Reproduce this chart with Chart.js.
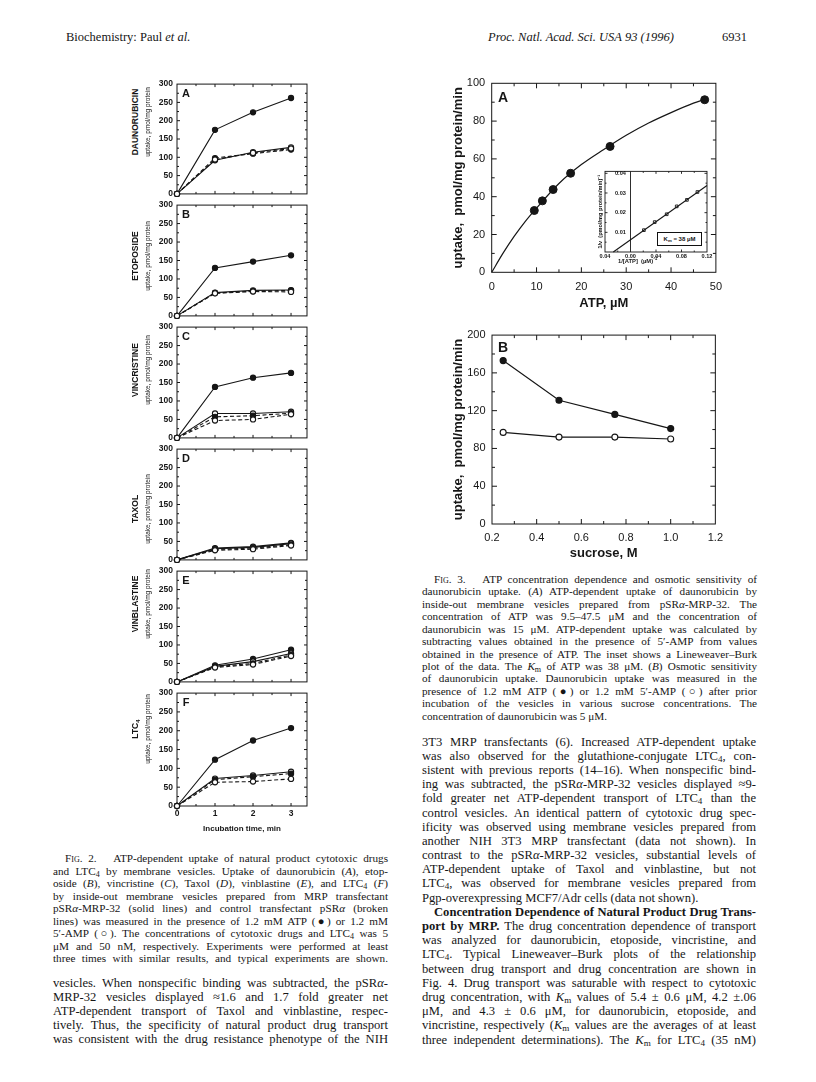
<!DOCTYPE html>
<html><head><meta charset="utf-8">
<script src="https://cdn.jsdelivr.net/npm/chart.js@4.4.1/dist/chart.umd.min.js"></script>
<style>
html,body{margin:0;padding:0;background:#fff;}
body{width:816px;height:1082px;position:relative;overflow:hidden;color:#161616;}
.abs{position:absolute;white-space:nowrap;z-index:5;}
canvas{position:absolute;z-index:1;}
.serif{font-family:'Liberation Serif','Times New Roman',serif;}
.sans{font-family:'Liberation Sans',Arial,sans-serif;}
.rot{position:absolute;z-index:5;transform:translate(-50%,-50%) rotate(-90deg);white-space:nowrap;font-family:'Liberation Sans',Arial,sans-serif;}
.txt{position:absolute;font-family:'Liberation Serif','Times New Roman',serif;}
.txt div{white-space:nowrap;text-align:justify;text-align-last:justify;}
.txt div.l{text-align-last:left;}
.sc{font-variant:small-caps;}
sub{font-size:0.72em;vertical-align:-0.25em;line-height:0;}
.let{position:absolute;z-index:5;font-family:'Liberation Sans',Arial,sans-serif;font-weight:bold;transform:translate(-50%,-50%);}
</style></head>
<body>
<div class="abs serif" style="left:66px;top:30px;font-size:12.5px;">Biochemistry: Paul <i>et al.</i></div>
<div class="abs serif" style="left:488px;top:30px;font-size:12.5px;font-style:italic;">Proc. Natl. Acad. Sci. USA 93 (1996)</div>
<div class="abs serif" style="left:722px;top:30px;font-size:12.5px;">6931</div>

<div id="leftLabels"></div>

<div class="let" style="left:503px;top:97px;font-size:14px;">A</div>
<div class="let" style="left:503px;top:347px;font-size:14px;">B</div>
<div class="abs sans" style="left:657px;top:232px;width:43px;height:12px;border:1px solid #111;background:#fff;font-size:6px;font-weight:bold;line-height:12px;text-align:center;">K<sub>m</sub> = 38 µM</div>
<div class="abs sans" style="left:618px;top:258px;font-size:5.8px;font-weight:bold;">1/[ATP]&nbsp; (µM)<sup style="font-size:0.8em;line-height:0">-1</sup></div>

<div class="txt" style="left:53px;top:852px;width:335px;font-size:11.2px;line-height:12.5px;">
<div style="padding-left:12px"><span class="sc">Fig</span>. 2.&nbsp;&nbsp; ATP-dependent uptake of natural product cytotoxic drugs</div>
<div>and LTC<sub>4</sub> by membrane vesicles. Uptake of daunorubicin (<i>A</i>), etop-</div>
<div>oside (<i>B</i>), vincristine (<i>C</i>), Taxol (<i>D</i>), vinblastine (<i>E</i>), and LTC<sub>4</sub> (<i>F</i>)</div>
<div>by inside-out membrane vesicles prepared from MRP transfectant</div>
<div>pSR<i>α</i>-MRP-32 (solid lines) and control transfectant pSR<i>α</i> (broken</div>
<div>lines) was measured in the presence of 1.2 mM ATP (●) or 1.2 mM</div>
<div>5′-AMP (○). The concentrations of cytotoxic drugs and LTC<sub>4</sub> was 5</div>
<div>μM and 50 nM, respectively. Experiments were performed at least</div>
<div>three times with similar results, and typical experiments are shown.</div>
</div>

<div class="txt" style="left:53px;top:976px;width:335px;font-size:12.6px;line-height:14px;">
<div>vesicles. When nonspecific binding was subtracted, the pSR<i>α</i>-</div>
<div>MRP-32 vesicles displayed ≈1.6 and 1.7 fold greater net</div>
<div>ATP-dependent transport of Taxol and vinblastine, respec-</div>
<div>tively. Thus, the specificity of natural product drug transport</div>
<div>was consistent with the drug resistance phenotype of the NIH</div>
</div>

<div class="txt" style="left:422px;top:573px;width:335px;font-size:11.2px;line-height:12.42px;">
<div style="padding-left:12px"><span class="sc">Fig</span>. 3.&nbsp;&nbsp; ATP concentration dependence and osmotic sensitivity of</div>
<div>daunorubicin uptake. (<i>A</i>) ATP-dependent uptake of daunorubicin by</div>
<div>inside-out membrane vesicles prepared from pSR<i>α</i>-MRP-32. The</div>
<div>concentration of ATP was 9.5–47.5 μM and the concentration of</div>
<div>daunorubicin was 15 μM. ATP-dependent uptake was calculated by</div>
<div>subtracting values obtained in the presence of 5′-AMP from values</div>
<div>obtained in the presence of ATP. The inset shows a Lineweaver–Burk</div>
<div>plot of the data. The <i>K</i><sub>m</sub> of ATP was 38 μM. (<i>B</i>) Osmotic sensitivity</div>
<div>of daunorubicin uptake. Daunorubicin uptake was measured in the</div>
<div>presence of 1.2 mM ATP (●) or 1.2 mM 5′-AMP (○) after prior</div>
<div>incubation of the vesicles in various sucrose concentrations. The</div>
<div class="l">concentration of daunorubicin was 5 μM.</div>
</div>

<div class="txt" style="left:422px;top:734.6px;width:334px;font-size:12.6px;line-height:14.18px;">
<div>3T3 MRP transfectants (6). Increased ATP-dependent uptake</div>
<div>was also observed for the glutathione-conjugate LTC<sub>4</sub>, con-</div>
<div>sistent with previous reports (14–16). When nonspecific bind-</div>
<div>ing was subtracted, the pSR<i>α</i>-MRP-32 vesicles displayed ≈9-</div>
<div>fold greater net ATP-dependent transport of LTC<sub>4</sub> than the</div>
<div>control vesicles. An identical pattern of cytotoxic drug spec-</div>
<div>ificity was observed using membrane vesicles prepared from</div>
<div>another NIH 3T3 MRP transfectant (data not shown). In</div>
<div>contrast to the pSR<i>α</i>-MRP-32 vesicles, substantial levels of</div>
<div>ATP-dependent uptake of Taxol and vinblastine, but not</div>
<div>LTC<sub>4</sub>, was observed for membrane vesicles prepared from</div>
<div class="l">Pgp-overexpressing MCF7/Adr cells (data not shown).</div>
<div style="padding-left:12px"><b>Concentration Dependence of Natural Product Drug Trans-</b></div>
<div><b>port by MRP.</b> The drug concentration dependence of transport</div>
<div>was analyzed for daunorubicin, etoposide, vincristine, and</div>
<div>LTC<sub>4</sub>. Typical Lineweaver–Burk plots of the relationship</div>
<div>between drug transport and drug concentration are shown in</div>
<div>Fig. 4. Drug transport was saturable with respect to cytotoxic</div>
<div>drug concentration, with <i>K</i><sub>m</sub> values of 5.4 ± 0.6 μM, 4.2 ±.06</div>
<div>μM, and 4.3 ± 0.6 μM, for daunorubicin, etoposide, and</div>
<div>vincristine, respectively (<i>K</i><sub>m</sub> values are the averages of at least</div>
<div>three independent determinations). The <i>K</i><sub>m</sub> for LTC<sub>4</sub> (35 nM)</div>
</div>

<script>
// ---------- data (Fig. 2) ----------
const timeMin = [0, 1, 2, 3];
const daunoMrpAtp = [0, 175, 223, 262];
const daunoMrpAmp = [0, 92, 114, 127];
const daunoCtlAtp = [0, 98, 110, 121];
const daunoCtlAmp = [0, 94, 112, 124];
const etoMrpAtp = [0, 130, 147, 164];
const etoMrpAmp = [0, 63, 69, 70];
const etoCtlAtp = [0, 62, 67, 69];
const etoCtlAmp = [0, 61, 66, 65];
const vinMrpAtp = [0, 138, 163, 176];
const vinMrpAmp = [0, 66, 66, 71];
const vinCtlAtp = [0, 57, 60, 67];
const vinCtlAmp = [0, 47, 50, 64];
const taxMrpAtp = [0, 32, 36, 46];
const taxMrpAmp = [0, 30, 34, 44];
const taxCtlAtp = [0, 28, 32, 41];
const taxCtlAmp = [0, 26, 29, 39];
const vblMrpAtp = [0, 45, 62, 87];
const vblMrpAmp = [0, 42, 55, 77];
const vblCtlAtp = [0, 41, 50, 73];
const vblCtlAmp = [0, 39, 47, 70];
const ltcMrpAtp = [0, 123, 174, 207];
const ltcMrpAmp = [0, 73, 81, 91];
const ltcCtlAtp = [0, 70, 78, 86];
const ltcCtlAmp = [0, 63, 65, 72];
const panelLetters = ['A', 'B', 'C', 'D', 'E', 'F'];
const drugNames = ['DAUNORUBICIN', 'ETOPOSIDE', 'VINCRISTINE', 'TAXOL', 'VINBLASTINE', 'LTC<sub>4</sub>'];
const uptakeAxisLabel = 'uptake, pmol/mg protein';
const uptakeTicks = [0, 50, 100, 150, 200, 250, 300];
const timeTicks = [0, 1, 2, 3];
const timeAxisLabel = 'Incubation time, min';

// ---------- data (Fig. 3A) ----------
const atpConc = [9.5, 11.3, 13.7, 17.6, 26.4, 47.5];
const atpUptake = [32.7, 37.8, 43.8, 52.4, 66.6, 91.3];
const fitConc = [0, 2.5, 5, 7.5, 10, 15, 20, 25, 30, 35, 40, 45, 47.5];
const fitUptake = [0, 10, 19, 27, 34, 47, 57, 65, 72.5, 79, 84.5, 89.5, 91.5];
const atpTicks = [0, 10, 20, 30, 40, 50];
const uptakeMinTicks = [0, 20, 40, 60, 80, 100];
// inset (Lineweaver-Burk)
const invAtp = [0.021, 0.038, 0.0568, 0.0725, 0.0885, 0.105];
const invUptake = [0.0111, 0.0152, 0.0192, 0.0232, 0.0265, 0.0305];
const lbLineX = [-0.027, 0.12];
const lbLineY = [0, 0.0338];
const invAtpTicks = [-0.04, 0, 0.04, 0.08, 0.12];
const invAtpTickLabels = ['0.04', '0.00', '0.04', '0.08', '0.12'];
const invUptakeTicks = [0.01, 0.02, 0.03, 0.04];

// ---------- data (Fig. 3B) ----------
const sucrose = [0.25, 0.5, 0.75, 1.0];
const sucroseAtp = [173, 131, 116, 101];
const sucroseAmp = [97, 92, 92, 90];
const sucroseTicks = [0.2, 0.4, 0.6, 0.8, 1.0, 1.2];
const sucroseUptakeTicks = [0, 40, 80, 120, 160, 200];

// ---------- helpers ----------
const INK = '#161616';
const SANS = "'Liberation Sans', Arial, sans-serif";
const fixed = vals => s => { s.ticks = vals.map(v => ({ value: v })); };
const range = (a, b, st) => { const r = []; for (let v = a; v <= b + 1e-9; v += st) r.push(+v.toFixed(4)); return r; };
const pts = (xs, ys) => xs.map((x, i) => ({ x, y: ys[i] }));

const frameTicks = {
  id: 'frameTicks',
  beforeDraw(chart, args, o) {
    if (!o || !o.on || !o.fill) return;
    const { ctx, chartArea: a } = chart;
    ctx.save(); ctx.fillStyle = '#fff';
    ctx.fillRect(a.left, a.top, a.right - a.left, a.bottom - a.top);
    ctx.restore();
  },
  beforeDatasetsDraw(chart, args, o) {
    if (!o || !o.on) return;
    const { ctx, chartArea: a } = chart;
    const x = chart.scales.x, y = chart.scales.y;
    ctx.save();
    ctx.strokeStyle = INK; ctx.lineWidth = o.lw || 1;
    ctx.strokeRect(a.left, a.top, a.right - a.left, a.bottom - a.top);
    ctx.beginPath();
    const tk = (vals, len, horiz) => (vals || []).forEach(v => {
      if (horiz) { const p = x.getPixelForValue(v); ctx.moveTo(p, a.bottom); ctx.lineTo(p, a.bottom - len); ctx.moveTo(p, a.top); ctx.lineTo(p, a.top + len); }
      else { const p = y.getPixelForValue(v); ctx.moveTo(a.left, p); ctx.lineTo(a.left + len, p); ctx.moveTo(a.right, p); ctx.lineTo(a.right - len, p); }
    });
    tk(o.xMajor, o.L, true); tk(o.xMinor, o.l, true); tk(o.yMajor, o.L, false); tk(o.yMinor, o.l, false);
    if (o.zeroX !== undefined) { const p = x.getPixelForValue(o.zeroX); ctx.moveTo(p, a.top); ctx.lineTo(p, a.bottom); }
    ctx.stroke(); ctx.restore();
  }
};
Chart.register(frameTicks);

function makeCanvas(left, top, w, h) {
  const c = document.createElement('canvas');
  c.width = w; c.height = h;
  c.style.left = left + 'px'; c.style.top = top + 'px';
  c.style.width = w + 'px'; c.style.height = h + 'px';
  document.body.appendChild(c);
  return c;
}
const baseOpts = () => ({ responsive: false, animation: false, events: [], devicePixelRatio: 1 });

// ---------- Fig. 2 panels ----------
const panels = [
  [daunoMrpAtp, daunoMrpAmp, daunoCtlAtp, daunoCtlAmp],
  [etoMrpAtp, etoMrpAmp, etoCtlAtp, etoCtlAmp],
  [vinMrpAtp, vinMrpAmp, vinCtlAtp, vinCtlAmp],
  [taxMrpAtp, taxMrpAmp, taxCtlAtp, taxCtlAmp],
  [vblMrpAtp, vblMrpAmp, vblCtlAtp, vblCtlAmp],
  [ltcMrpAtp, ltcMrpAmp, ltcCtlAtp, ltcCtlAmp]
];
const labelCenters = [122, 256, 370, 509, 604, 729];
const tickFont2 = { family: SANS, size: 8.5, weight: 'bold' };

panels.forEach((p, i) => {
  const T = 83 + i * 121.9, B = T + 113.5;
  const last = i === panels.length - 1;
  const xH = last ? 29 : 0;
  const cTop = Math.floor(T) - 8;
  const cH = Math.ceil(B + xH + (last ? 3 : 6)) - cTop;
  const padTop = T - cTop, padBottom = cTop + cH - B - xH;
  const c = makeCanvas(150, cTop, 165, cH);
  const ds = (vals, dashed, filled) => ({
    data: pts(timeMin, vals), borderColor: INK, borderWidth: 1.1,
    borderDash: dashed ? [4, 2.5] : [], pointRadius: 2.6, pointBorderWidth: 1.1,
    pointBackgroundColor: filled ? INK : '#fff', pointBorderColor: INK, clip: false, tension: 0
  });
  new Chart(c, {
    type: 'line',
    data: { datasets: [ds(p[3], true, false), ds(p[2], true, true), ds(p[1], false, false), ds(p[0], false, true)] },
    options: {
      ...baseOpts(),
      layout: { autoPadding: false, padding: { left: 0, right: 8, top: padTop, bottom: padBottom } },
      scales: {
        x: { type: 'linear', min: 0, max: 3.42, grid: { display: false, drawTicks: false }, border: { display: false },
             afterBuildTicks: fixed(timeTicks), afterFit: s => { s.height = xH; },
             ticks: { display: last, padding: 3, font: tickFont2, color: INK, autoSkip: false, maxRotation: 0 },
             title: { display: last, text: timeAxisLabel, color: INK, font: { family: SANS, size: 8, weight: 'bold' }, padding: { top: 0, bottom: 1.2 } } },
        y: { type: 'linear', min: 0, max: 300, grid: { display: false, drawTicks: false }, border: { display: false },
             afterBuildTicks: fixed(uptakeTicks), afterFit: s => { s.width = 27; },
             ticks: { padding: 4, font: tickFont2, color: INK } }
      },
      plugins: { legend: { display: false }, tooltip: { enabled: false },
        frameTicks: { on: true, xMajor: [1, 2, 3], xMinor: [0.5, 1.5, 2.5], yMajor: [50, 100, 150, 200, 250], yMinor: [25, 75, 125, 175, 225, 275], L: 3, l: 2 } }
    }
  });
  const L = document.getElementById('leftLabels');
  L.insertAdjacentHTML('beforeend',
    `<div class="rot" style="left:135px;top:${labelCenters[i]}px;font-size:8.5px;font-weight:bold;">${drugNames[i]}</div>` +
    `<div class="rot" style="left:147px;top:${labelCenters[i]}px;font-size:6.5px;">${uptakeAxisLabel}</div>` +
    `<div class="let" style="left:186px;top:${T + 9.5}px;font-size:11px;">${panelLetters[i]}</div>`);
});

// ---------- Fig. 3A ----------
const tickFont3 = { family: SANS, size: 11 };
const titleFont3 = { family: SANS, size: 13, weight: 'bold' };
new Chart(makeCanvas(420, 70, 310, 250), {
  type: 'line',
  data: { datasets: [
    { data: pts(fitConc, fitUptake), borderColor: INK, borderWidth: 1.2, pointRadius: 0, cubicInterpolationMode: 'monotone', clip: false },
    { data: pts(atpConc, atpUptake), showLine: false, pointRadius: 4, pointBackgroundColor: INK, pointBorderColor: INK, clip: false }
  ] },
  options: {
    ...baseOpts(),
    layout: { autoPadding: false, padding: { left: 0, right: 12.3, top: 13.3, bottom: 7.7 } },
    scales: {
      x: { type: 'linear', min: 0, max: 50, grid: { display: false, drawTicks: false }, border: { display: false },
           afterBuildTicks: fixed(atpTicks), afterFit: s => { s.height = 40; },
           ticks: { padding: 8, font: tickFont3, color: INK, autoSkip: false, maxRotation: 0 },
           title: { display: true, text: 'ATP, µM', color: INK, font: titleFont3, padding: { top: 0, bottom: 1.5 } } },
      y: { type: 'linear', min: 0, max: 100, grid: { display: false, drawTicks: false }, border: { display: false },
           afterBuildTicks: fixed(uptakeMinTicks), afterFit: s => { s.width = 71.7; },
           ticks: { padding: 6.5, font: tickFont3, color: INK },
           title: { display: true, text: 'uptake,  pmol/mg protein/min', color: INK, font: titleFont3, padding: { top: 30.2, bottom: 0 } } }
    },
    plugins: { legend: { display: false }, tooltip: { enabled: false },
      frameTicks: { on: true, xMajor: range(10, 40, 10), xMinor: range(5, 45, 10), yMajor: range(20, 80, 20), yMinor: range(10, 90, 20), L: 5, l: 3 } }
  }
});

// ---------- Fig. 3A inset ----------
const insetFont = { family: SANS, size: 5.6, weight: 'bold' };
new Chart(makeCanvas(575, 158, 140, 112), {
  type: 'line',
  data: { datasets: [
    { data: pts(lbLineX, lbLineY), borderColor: INK, borderWidth: 1.1, pointRadius: 0, clip: false },
    { data: pts(invAtp, invUptake), showLine: false, pointStyle: 'rect', pointRadius: 1.9, pointBorderWidth: 0.9, pointBackgroundColor: '#fff', pointBorderColor: INK }
  ] },
  options: {
    ...baseOpts(),
    layout: { autoPadding: false, padding: { left: 0, right: 8, top: 7, bottom: 6 } },
    scales: {
      x: { type: 'linear', min: -0.04, max: 0.12, grid: { display: false, drawTicks: false }, border: { display: false },
           afterBuildTicks: fixed(invAtpTicks), afterFit: s => { s.height = 12; },
           ticks: { padding: 1.5, font: insetFont, color: INK, autoSkip: false, maxRotation: 0,
                    callback: (v, i) => invAtpTickLabels[i] } },
      y: { type: 'linear', min: 0, max: 0.041, grid: { display: false, drawTicks: false }, border: { display: false },
           afterBuildTicks: fixed(invUptakeTicks), afterFit: s => { s.width = 30; },
           ticks: { mirror: true, padding: 10, font: insetFont, color: INK, callback: v => v.toFixed(2) },
           title: { display: true, text: '1/v  (pmol/mg protein/min)⁻¹', color: INK, font: insetFont, padding: { top: 21.7, bottom: 0 } } }
    },
    plugins: { legend: { display: false }, tooltip: { enabled: false },
      frameTicks: { on: true, fill: true, lw: 0.9, zeroX: 0, xMajor: [0.04, 0.08], xMinor: [-0.02, 0.02, 0.06, 0.10], yMajor: invUptakeTicks, yMinor: [0.005, 0.015, 0.025, 0.035], L: 2.5, l: 1.5 } }
  }
});

// ---------- Fig. 3B ----------
new Chart(makeCanvas(420, 322, 310, 245), {
  type: 'line',
  data: { datasets: [
    { data: pts(sucrose, sucroseAmp), borderColor: INK, borderWidth: 1.2, pointRadius: 3, pointBorderWidth: 1.1, pointBackgroundColor: '#fff', pointBorderColor: INK, clip: false },
    { data: pts(sucrose, sucroseAtp), borderColor: INK, borderWidth: 1.2, pointRadius: 3, pointBackgroundColor: INK, pointBorderColor: INK, clip: false }
  ] },
  options: {
    ...baseOpts(),
    layout: { autoPadding: false, padding: { left: 0, right: 12, top: 13, bottom: 5 } },
    scales: {
      x: { type: 'linear', min: 0.2, max: 1.2, grid: { display: false, drawTicks: false }, border: { display: false },
           afterBuildTicks: fixed(sucroseTicks), afterFit: s => { s.height = 38; },
           ticks: { padding: 7, font: tickFont3, color: INK, autoSkip: false, maxRotation: 0, callback: v => v.toFixed(1) },
           title: { display: true, text: 'sucrose, M', color: INK, font: titleFont3, padding: { top: 0, bottom: 1.2 } } },
      y: { type: 'linear', min: 0, max: 200, grid: { display: false, drawTicks: false }, border: { display: false },
           afterBuildTicks: fixed(sucroseUptakeTicks), afterFit: s => { s.width = 72; },
           ticks: { padding: 6.5, font: tickFont3, color: INK },
           title: { display: true, text: 'uptake,  pmol/mg protein/min', color: INK, font: titleFont3, padding: { top: 30.2, bottom: 0 } } }
    },
    plugins: { legend: { display: false }, tooltip: { enabled: false },
      frameTicks: { on: true, xMajor: range(0.4, 1.0, 0.2), xMinor: range(0.3, 1.1, 0.2), yMajor: range(40, 160, 40), yMinor: range(20, 180, 40), L: 5, l: 3 } }
  }
});
</script>
</body></html>
